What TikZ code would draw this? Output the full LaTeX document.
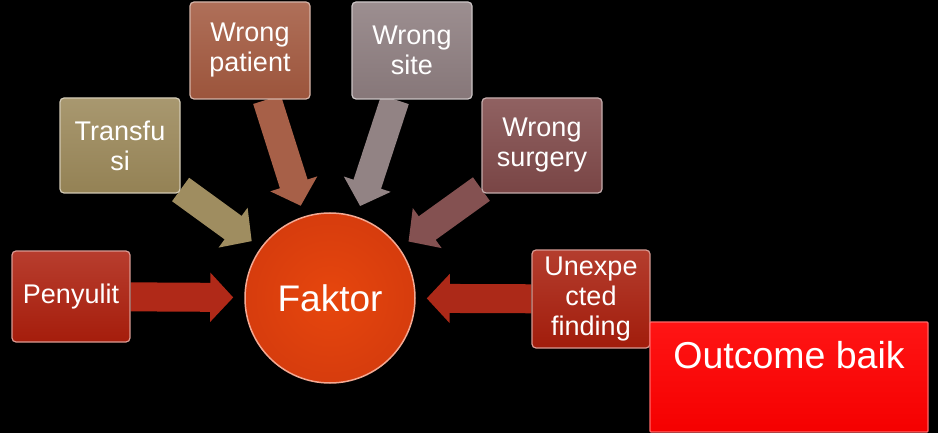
\documentclass[tikz,border=0pt]{standalone}
\usepackage{fontspec}
\setmainfont{Liberation Sans}
\usetikzlibrary{arrows.meta}
\pgfdeclarelayer{bg}
\pgfdeclarelayer{conn}
\pgfsetlayers{bg,conn,main}

\definecolor{cPeny}{HTML}{AC1E0C}
\definecolor{cTrans}{HTML}{9A8758}
\definecolor{cPat}{HTML}{A2583E}
\definecolor{cSite}{HTML}{8C7C7E}
\definecolor{cSurg}{HTML}{7E4848}
\definecolor{cUnex}{HTML}{A81E0C}
\definecolor{cFak}{HTML}{E4400E}
\definecolor{cOut}{HTML}{FF0000}

\begin{document}
\begin{tikzpicture}[x=1pt,y=-1pt,
  gbox/.style={rounded corners=4pt, draw=#1!45!white, line width=1.2pt,
    top color=#1!86!white, bottom color=#1!96!black,
    text=white, font=\fontsize{27}{30}\selectfont, align=center,
    inner sep=1pt},
  blockarrow/.style={draw=#1, line width=29pt, shorten >=11pt,
    -{Triangle[width=48pt,length=23pt]}}
]
\begin{pgfonlayer}{bg}
  \fill[black] (0,0) rectangle (938,433);
\end{pgfonlayer}
\useasboundingbox (0,0) rectangle (938,433);

% central circle
\node (faktor) [circle, minimum size=170pt, inner sep=0pt,
  inner color=cFak!90!orange, outer color=cFak!94!black,
  draw=cFak!45!white, line width=1.5pt,
  text=white, font=\fontsize{37}{42}\selectfont] at (330,298) {Faktor};

% factor boxes
\node (peny)  [gbox=cPeny,  minimum width=118pt, minimum height=91pt] at (71,296.5) {Penyulit};
\node (trans) [gbox=cTrans, minimum width=120pt, minimum height=95pt] at (120,145.5) {Transfu\\si};
\node (wpat)  [gbox=cPat,   minimum width=120pt, minimum height=97pt] at (250,50.5) {Wrong\\patient};
\node (wsite) [gbox=cSite,  minimum width=120pt, minimum height=97pt] at (412,50.5) {Wrong\\site};
\node (wsurg) [gbox=cSurg,  minimum width=120pt, minimum height=95pt] at (542,145.5) {Wrong\\surgery};
\node (unexp) [gbox=cUnex,  minimum width=118pt, minimum height=98pt] at (591,299) {Unexpe\\cted\\finding};

% result box
\node (outc) [rounded corners=1pt, draw=cOut!60!white, line width=1.2pt,
  top color=cOut!92!white, bottom color=cOut!96!black,
  minimum width=278pt, minimum height=110pt] at (789,377) {};
\node (outt) [text=white, font=\fontsize{37.5}{42}\selectfont] at (789,355) {Outcome baik};

% block arrows into the circle
\begin{pgfonlayer}{conn}
  \draw[blockarrow=cPeny!95!white]  (peny) -- (faktor);
  \draw[blockarrow=cTrans!95!white] (trans) -- (faktor);
  \draw[blockarrow=cPat!95!white]   ([xshift=17pt]wpat.south) -- (faktor);
  \draw[blockarrow=cSite!95!white]  ([xshift=-17pt]wsite.south) -- (faktor);
  \draw[blockarrow=cSurg!95!white]  (wsurg) -- (faktor);
  \draw[blockarrow=cUnex!95!white]  (unexp) -- (faktor);
\end{pgfonlayer}
\end{tikzpicture}
\end{document}
